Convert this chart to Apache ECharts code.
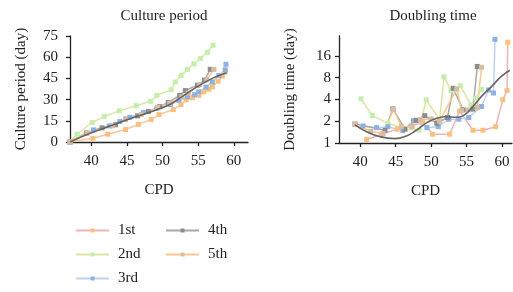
<!DOCTYPE html>
<html>
<head>
<meta charset="utf-8">
<script src="https://cdn.jsdelivr.net/npm/echarts@6/dist/echarts.min.js"></script>
<style>
  html, body { margin: 0; padding: 0; background: #fff; }
  #chart { width: 513px; height: 292px; }
</style>
</head>
<body>
<div id="chart"></div>
<script>
// series names (legend order)
var names = ['1st', '2nd', '3rd', '4th', '5th'];
var xTicks = [40, 45, 50, 55, 60];
var cultureTicks = [0, 15, 30, 45, 60, 75];
var doublingTicks = [1, 2, 4, 8, 16];

// Culture period (day) vs CPD, [CPD, day]
var culture1st = [[37,0],[40.2,2.6],[42.3,5.5],[44.8,8.8],[46.6,12.5],[48.4,16],[49.5,19.4],[51.5,22.9],[52.6,26.5],[53.3,29.8],[54.2,31.3],[55.1,33],[55.8,35.5],[56.5,37.3],[57,39],[57.8,43],[58.4,46.5],[58.8,49.5]];
var culture2nd = [[37,0],[38,5.5],[40.1,13.8],[41.8,18],[43.9,22],[46.3,25.7],[48.3,28.8],[49.2,33],[51.2,37],[51.8,42.4],[52.6,47],[53.5,51.4],[54.4,55.3],[55.3,59],[56.3,63.5],[57.1,68.5]];
var culture3rd = [[37,0],[40.3,8.6],[42.5,11.4],[44,14.5],[45.4,17.5],[47.3,20.8],[49.2,23.8],[51.1,26.4],[52.3,29.5],[53.5,32],[54.5,33.5],[55.1,35.5],[56.1,38.8],[57,42.4],[57.9,47],[58.8,51],[58.9,55]];
var culture4th = [[37,0],[39.3,6.4],[41.5,10],[43.4,12.2],[44.8,16.2],[46.5,18.5],[48,21.5],[49.6,25],[50.8,28],[52.4,33],[53.2,36.4],[54.9,40.2],[55.9,43.8],[56.7,51.4]];
var culture5th = [[37,0],[39.4,6.4],[43,11.5],[44.8,15.8],[47,19.5],[49.3,24.5],[51,27.5],[52.7,32],[53.6,34.5],[55.2,40.5],[56.2,44],[57.2,51.4]];
var cultureTrend = [[37,0],[40,6.5],[43,12],[46,17.5],[49,22.5],[51,26.5],[53,33],[55,39.5],[57,45],[59,49]];

// Doubling time (day) vs CPD, [CPD, day]
var doubling1st = [[40.9,1.12],[43,1.32],[45.2,1.55],[47.3,1.72],[48.8,1.95],[50.2,1.32],[52.6,1.32],[54,2.75],[55.9,1.5],[57.3,1.5],[59.1,1.68],[60.1,3.95],[60.7,5.3],[60.8,24.6]];
var doubling2nd = [[40.1,4.07],[41.7,2.39],[43.9,1.87],[46.4,1.56],[48.3,1.51],[49.3,3.95],[51.2,2.08],[51.8,8.2],[52.8,5.26],[53.6,5.4],[54.1,6.2],[55.6,3.36],[56.3,4.17],[57.1,5.5]];
var doubling3rd = [[40.4,1.72],[42.3,1.63],[43.9,1.68],[46,1.48],[47.5,2.04],[49.4,1.63],[51,1.68],[52.5,2.13],[53.9,2.13],[55.3,2.24],[57.1,3.19],[58.1,5.4],[58.8,4.9],[59,27]];
var doubling4th = [[39.25,1.83],[43.5,1.5],[44.6,2.96],[46.3,1.55],[47.9,2.06],[49.1,2.38],[50.8,1.87],[52.3,2.25],[53.1,5.7],[54.5,2.87],[55.9,2.93],[56.5,11.4]];
var doubling5th = [[39.25,1.8],[41.5,1.45],[43.2,1.35],[44.7,2.9],[45.8,1.68],[47.3,1.68],[48.5,2.1],[50,2.15],[51.2,2.0],[53.6,5.6],[54.3,2.8],[55.2,2.85],[56.5,3.1],[57.1,11.1]];
var doublingTrend = [[39.25,1.78],[40.9,1.43],[42.8,1.22],[44.9,1.15],[46.5,1.25],[47.9,1.5],[49.4,1.91],[50.8,2.2],[52.2,2.3],[53.6,2.27],[54.7,2.45],[55.9,3.2],[57.1,4.4],[58.5,6.0],[59.9,8.3],[61.1,10.1]];

var lineColors = ['#e9b5b5', '#dfe4a4', '#bdd3ef', '#a8a8a8', '#fcc68e'];
var markColors = ['#fcc07e', '#c4eeae', '#8eb1e0', '#8d8d8d', '#d7bca6'];
var font = 'Liberation Serif';
var ink = '#222';

function series(name, data, idx, lineColor, markColor) {
    return {
        name: name, type: 'line', data: data,
        xAxisIndex: idx, yAxisIndex: idx,
        symbol: 'rect', symbolSize: 5,
        lineStyle: { color: lineColor, width: 1.5 },
        itemStyle: { color: markColor },
        emphasis: { disabled: true },
        animation: false
    };
}
function trend(data, idx) {
    return {
        name: 'trend', type: 'line', data: data, smooth: true,
        xAxisIndex: idx, yAxisIndex: idx, symbol: 'none',
        lineStyle: { color: '#666', width: 1.6 },
        animation: false, z: 5
    };
}
function xAxis(idx, max) {
    return {
        type: 'value', gridIndex: idx, min: 37, max: max,
        name: 'CPD', nameLocation: 'middle', nameGap: 41,
        nameTextStyle: { fontFamily: font, fontSize: 15, color: ink },
        axisLine: { lineStyle: { color: ink, width: 1.3 } },
        axisTick: { customValues: xTicks, length: 4, lineStyle: { color: ink, width: 1.3 } },
        axisLabel: { customValues: xTicks, margin: 12, fontFamily: font, fontSize: 15, color: ink },
        splitLine: { show: false }
    };
}

var culture = [culture1st, culture2nd, culture3rd, culture4th, culture5th];
var doubling = [doubling1st, doubling2nd, doubling3rd, doubling4th, doubling5th];
var allSeries = [];
for (let i = 0; i < names.length; i++) {
    allSeries.push(series(names[i], doubling[i], 1, lineColors[i], markColors[i]));
}
for (let i = 0; i < names.length; i++) {
    // the lowest culture curve is drawn in orange in the figure
    let lc = i === 0 ? '#fcc68e' : lineColors[i];
    allSeries.push(series(names[i], culture[i], 0, lc, markColors[i]));
}
allSeries.push(trend(cultureTrend, 0));
allSeries.push(trend(doublingTrend, 1));

function legendItems(list) {
    return list.map(function (n) {
        let i = names.indexOf(n);
        return { name: n, itemStyle: { color: markColors[i] }, lineStyle: { color: lineColors[i], width: 2 } };
    });
}
var legendBase = {
    orient: 'vertical', top: 218, itemWidth: 33, itemHeight: 5, itemGap: 9,
    selectedMode: false,
    textStyle: { fontFamily: font, fontSize: 15, color: ink, padding: [0, 0, 0, 4] }
};

var option = {
    animation: false,
    title: [
        { text: 'Culture period', left: 159, top: 4, textAlign: 'center',
          textStyle: { fontFamily: font, fontSize: 15, fontWeight: 'normal', color: ink } },
        { text: 'Doubling time', left: 428, top: 4, textAlign: 'center',
          textStyle: { fontFamily: font, fontSize: 15, fontWeight: 'normal', color: ink } }
    ],
    legend: [
        Object.assign({ left: 70, data: legendItems(['1st', '2nd', '3rd']) }, legendBase),
        Object.assign({ left: 160, data: legendItems(['4th', '5th']) }, legendBase)
    ],
    grid: [
        { left: 70, right: 265, top: 36, bottom: 150 },
        { left: 339, right: 1, top: 36, bottom: 149 }
    ],
    xAxis: [xAxis(0, 62), xAxis(1, 61.4)],
    yAxis: [
        {
            type: 'value', gridIndex: 0, min: 0, max: 75, interval: 15,
            name: 'Culture period (day)', nameLocation: 'middle', nameGap: 41,
            nameTextStyle: { fontFamily: font, fontSize: 15, color: ink },
            axisLine: { show: true, lineStyle: { color: ink, width: 1.3 } },
            axisTick: { show: true, length: 4, lineStyle: { color: ink, width: 1.3 } },
            axisLabel: { margin: 12, fontFamily: font, fontSize: 15, color: ink },
            splitLine: { show: false }
        },
        {
            type: 'log', logBase: 2, gridIndex: 1, min: 1, max: 30,
            name: 'Doubling time (day)', nameLocation: 'middle', nameGap: 41,
            nameTextStyle: { fontFamily: font, fontSize: 15, color: ink },
            axisLine: { show: true, lineStyle: { color: ink, width: 1.3 } },
            axisTick: { show: true, customValues: doublingTicks, length: 4, lineStyle: { color: ink, width: 1.3 } },
            axisLabel: { customValues: doublingTicks, margin: 8, fontFamily: font, fontSize: 15, color: ink },
            splitLine: { show: false }
        }
    ],
    series: allSeries
};

var mychart = echarts.init(document.getElementById('chart'));
mychart.setOption(option);
</script>
</body>
</html>
